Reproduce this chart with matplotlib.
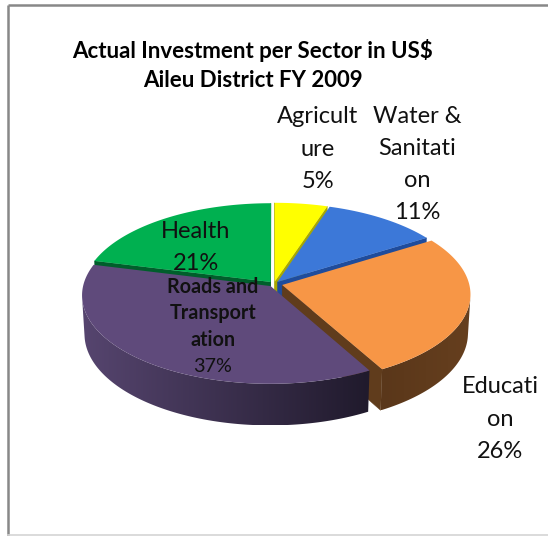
import numpy as np
import matplotlib
matplotlib.use("Agg")
import matplotlib.pyplot as plt
from matplotlib.patches import Polygon
from matplotlib.colors import LinearSegmentedColormap

plt.rcParams['font.family'] = ['Lato', 'DejaVu Sans']

# sector shares, clockwise from 12 o'clock
sectors = ["Agriculture", "Water & Sanitation", "Education",
           "Roads and Transportation", "Health"]
shares = [5, 11, 26, 37, 21]
# sector names wrapped the way they are printed
name_lines = [["Agricult", "ure"],
              ["Water &", "Sanitati", "on"],
              ["Educati", "on"],
              ["Roads and", "Transport", "ation"],
              ["Health"]]
title_lines = ["Actual Investment per Sector in US$", "Aileu District FY 2009"]

top_colors = ["#ffff00", "#3c78d8", "#f79646", "#5f4a7b", "#00b050"]
wall_colors = ["#a8a800", "#1f4c9c", "#603c1c", "#4a3a60", "#005e2b"]
side_colors = [("#8c8c00", "#8c8c00"), ("#1f4c9c", "#1f4c9c"),
               ("#663f1e", "#5a371a"), ("#56456f", "#201a2c"),
               ("#005e2b", "#005e2b")]
explode = [0.03, 0.03, 0.045, 0.03, 0.03]

# label blocks: x centre, baseline of first line, line step
label_xy = [(318, 123, 32.5), (417, 123, 32), (500, 393, 32.5),
            (213, 293, 26.3), (196, 238, 32)]

# 3d pie projection
CX, CY, SCALE = 274, 284, 187
PHI = np.radians(27.8)
F = 8.6
DEPTH = 0.236
cp, sp = np.cos(PHI), np.sin(PHI)


def to_view(X, H, Z):
    return X, H * cp + Z * sp, Z * cp - H * sp


def proj(X, H, Z):
    xv, yv, zv = to_view(X, H, Z)
    s = F / (F + zv)
    return CX + SCALE * xv * s, CY - SCALE * yv * s


def facing(pt, nrm):
    px, py, pz = to_view(*pt)
    nx, ny, nz = to_view(*nrm)
    return px * nx + py * ny + (pz + F) * nz < 0


fig = plt.figure(figsize=(5.48, 5.36), dpi=100)
ax = fig.add_axes([0, 0, 1, 1])
ax.set_xlim(0, 548)
ax.set_ylim(536, 0)
ax.axis('off')

fracs = np.array(shares) / sum(shares)
bounds = np.concatenate([[0], np.cumsum(fracs)]) * 2 * np.pi
mids = (bounds[:-1] + bounds[1:]) / 2
order = sorted(range(len(shares)), key=lambda k: -np.cos(mids[k]))

z = 2
for i in order:
    a, b, m = bounds[i], bounds[i + 1], mids[i]
    ox, oz = explode[i] * np.sin(m), explode[i] * np.cos(m)
    th = np.linspace(a, b, 240)
    rx, rz = ox + np.sin(th), oz + np.cos(th)

    # radial walls
    for ang, nrm in [(a, (-np.cos(a), 0, np.sin(a))),
                     (b, (np.cos(b), 0, -np.sin(b)))]:
        px, pz = ox + np.sin(ang), oz + np.cos(ang)
        if facing(((ox + px) / 2, -DEPTH / 2, (oz + pz) / 2), nrm):
            pts = [proj(ox, 0, oz), proj(px, 0, pz),
                   proj(px, -DEPTH, pz), proj(ox, -DEPTH, oz)]
            ax.add_patch(Polygon(pts, closed=True, fc=wall_colors[i],
                                 ec=wall_colors[i], lw=0.3, zorder=z))

    # curved outer side
    vis = np.array([facing((x, -DEPTH / 2, zz), (np.sin(t), 0, np.cos(t)))
                    for x, zz, t in zip(rx, rz, th)])
    if vis.any():
        idx = np.where(vis)[0]
        sel = slice(idx[0], idx[-1] + 1)
        tx, ty = proj(rx[sel], 0, rz[sel])
        bx, by = proj(rx[sel], -DEPTH, rz[sel])
        poly = np.column_stack([np.r_[tx, bx[::-1]], np.r_[ty, by[::-1]]])
        clip = Polygon(poly, closed=True, fc='none', ec='none', zorder=z)
        ax.add_patch(clip)
        cmap = LinearSegmentedColormap.from_list('side' + str(i), side_colors[i])
        grad = np.linspace(0, 1, 256)[None, :]
        if poly[:, 0].mean() > CX + 60:
            grad = grad[:, ::-1]
        im = ax.imshow(grad, cmap=cmap, aspect='auto', zorder=z,
                       extent=[poly[:, 0].min(), poly[:, 0].max(),
                               poly[:, 1].max(), poly[:, 1].min()])
        im.set_clip_path(clip)

    # top face
    tx, ty = proj(rx, 0, rz)
    c0x, c0y = proj(ox, 0, oz)
    ax.add_patch(Polygon(np.column_stack([np.r_[c0x, tx], np.r_[c0y, ty]]),
                         closed=True, fc=top_colors[i], ec='none', zorder=z + 0.5))
    z += 1

ax.set_xlim(0, 548)
ax.set_ylim(536, 0)

# data labels
for i, (lx, ly, step) in enumerate(label_xy):
    lines = name_lines[i] + [f"{shares[i]}%"]
    roads = i == 3
    for k, txt in enumerate(lines):
        bold = roads and k < len(lines) - 1
        ax.text(lx, ly + k * step, txt, ha='center', va='baseline',
                fontsize=14.2 if roads else 17,
                fontweight='bold' if bold else 'normal',
                color='#111111', zorder=20)

# chart title
for k, txt in enumerate(title_lines):
    ax.text(253, 58 + k * 29, txt, ha='center', va='baseline',
            fontsize=16, fontweight='bold', color='black', zorder=20)

# chart area border
ax.plot([8, 548], [5, 5], color='#888888', lw=1.8, solid_capstyle='butt', zorder=30)
ax.plot([8, 8], [5, 536], color='#888888', lw=1.8, solid_capstyle='butt', zorder=30)
ax.plot([8, 548], [535, 535], color='#d4d4d4', lw=1.2, zorder=30)

fig.savefig('out.png', dpi=100)
